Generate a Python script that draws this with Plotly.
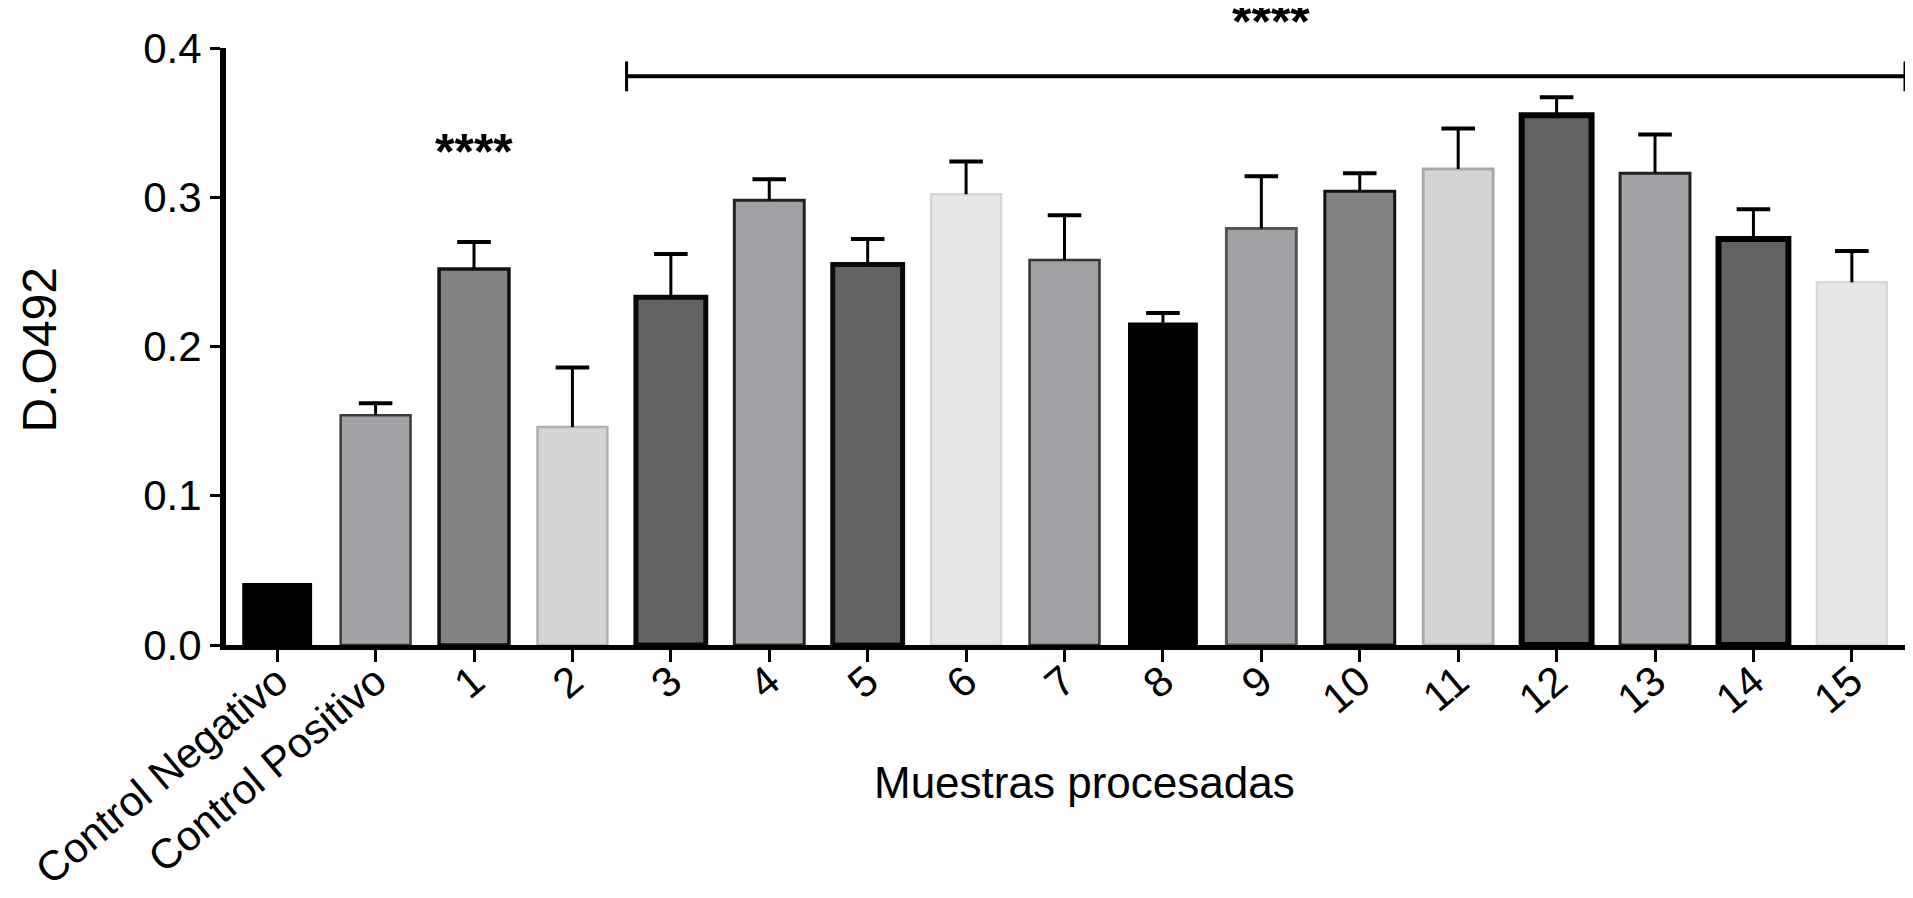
import plotly.graph_objects as go

# ---- data ----
categories = ["Control Negativo", "Control Positivo", "1", "2", "3", "4", "5", "6", "7",
              "8", "9", "10", "11", "12", "13", "14", "15"]
values = [0.0415, 0.154, 0.252, 0.146, 0.233, 0.298, 0.255, 0.302, 0.258,
          0.216, 0.279, 0.304, 0.319, 0.355, 0.316, 0.272, 0.243]
errors = [None, 0.008, 0.018, 0.040, 0.029, 0.014, 0.017, 0.022, 0.030,
          0.0065, 0.035, 0.012, 0.027, 0.012, 0.026, 0.020, 0.021]
y_ticks = [0.0, 0.1, 0.2, 0.3, 0.4]
y_tick_labels = ["0.0", "0.1", "0.2", "0.3", "0.4"]

# ---- styles ----
fill_colors = ["#000000", "#a2a1a6", "#828282", "#d4d4d4", "#636363", "#a2a1a6", "#636363",
               "#e6e6e6", "#a2a1a6", "#000000", "#a2a1a6", "#828282", "#d4d4d4", "#636363",
               "#a2a1a6", "#636363", "#e6e6e6"]
line_colors = ["#000000", "#3a3a3a", "#111111", "#b0b0b0", "#0a0a0a", "#222222", "#0a0a0a",
               "#d6d6d6", "#333333", "#000000", "#555555", "#111111", "#aaaaaa", "#000000",
               "#222222", "#000000", "#d8d8d8"]
line_widths = [0, 2.5, 3.5, 2.5, 5, 3, 5, 2.5, 2.5, 0, 3, 3, 3, 6, 3, 6, 2.5]

FONT = "Liberation Sans, Arial, sans-serif"

fig = go.Figure()
fig.add_trace(go.Bar(
    x=categories, y=values, width=0.71,
    marker=dict(color=fill_colors, line=dict(color=line_colors, width=line_widths)),
    showlegend=False, hoverinfo="x+y",
))

# error bars (upper only): stems + caps
stem_x, stem_y, cap_x, cap_y = [], [], [], []
for c, v, e in zip(categories, values, errors):
    if e is None:
        continue
    stem_x += [c, c, None]
    stem_y += [v, v + e, None]
    cap_x.append(c)
    cap_y.append(v + e)
fig.add_trace(go.Scatter(x=stem_x, y=stem_y, mode="lines",
                         line=dict(color="black", width=3), showlegend=False, hoverinfo="skip"))
fig.add_trace(go.Scatter(x=cap_x, y=cap_y, mode="markers",
                         marker=dict(symbol="line-ew", size=24, line=dict(color="black", width=4)),
                         showlegend=False, hoverinfo="skip"))

# significance bracket
br_x0, br_x1, br_y, br_h = 3.55, 16.54, 0.381, 0.010
fig.add_shape(type="line", xref="x", yref="y", x0=br_x0, x1=br_x1, y0=br_y, y1=br_y,
              line=dict(color="black", width=4))
fig.add_shape(type="line", xref="x", yref="y", x0=br_x0, x1=br_x0, y0=br_y - br_h, y1=br_y + br_h,
              line=dict(color="black", width=3))
fig.add_shape(type="line", xref="x", yref="y", x0=br_x1, x1=br_x1, y0=br_y - br_h, y1=br_y + br_h,
              line=dict(color="black", width=3))

fig.add_annotation(x=2, y=0.330, xref="x", yref="y", text="<b>****</b>", showarrow=False,
                   xanchor="center", yanchor="middle",
                   font=dict(family=FONT, size=50, color="black"))
fig.add_annotation(x=10.1, y=1.044, xref="x", yref="paper", text="<b>****</b>", showarrow=False,
                   xanchor="center", yanchor="middle",
                   font=dict(family=FONT, size=50, color="black"))

# axis titles
fig.add_annotation(x=-0.1108, y=0.495, xref="paper", yref="paper", text="D.O492",
                   textangle=-90, showarrow=False, xanchor="center", yanchor="middle",
                   font=dict(family=FONT, size=48, color="black"))
fig.add_annotation(x=0.5116, y=-0.231, xref="paper", yref="paper", text="Muestras procesadas",
                   showarrow=False, xanchor="center", yanchor="middle",
                   font=dict(family="Liberation Sans Narrow, Liberation Sans, sans-serif", size=44,
                             color="black"))

fig.update_layout(
    width=1897, height=882,
    margin=dict(l=218, r=0, t=40, b=245, autoexpand=False),
    plot_bgcolor="white", paper_bgcolor="white",
    font=dict(family=FONT, size=42, color="black"),
    bargap=0.29,
)
fig.update_xaxes(
    type="category", range=[-0.52, 16.54], automargin=False,
    showline=True, linecolor="black", linewidth=5,
    ticks="outside", ticklen=12, tickwidth=3, tickcolor="black",
    tickangle=-40, tickfont=dict(family=FONT, size=42, color="black"),
    ticklabelstandoff=-22,
    showgrid=False, zeroline=False,
)
fig.update_yaxes(
    range=[0, 0.4], tickvals=y_ticks, ticktext=y_tick_labels, automargin=False,
    showline=True, linecolor="black", linewidth=6,
    ticks="outside", ticklen=10, tickwidth=3, tickcolor="black",
    tickfont=dict(family=FONT, size=42, color="black"),
    showgrid=False, zeroline=False,
)

fig.write_html("out.html")
